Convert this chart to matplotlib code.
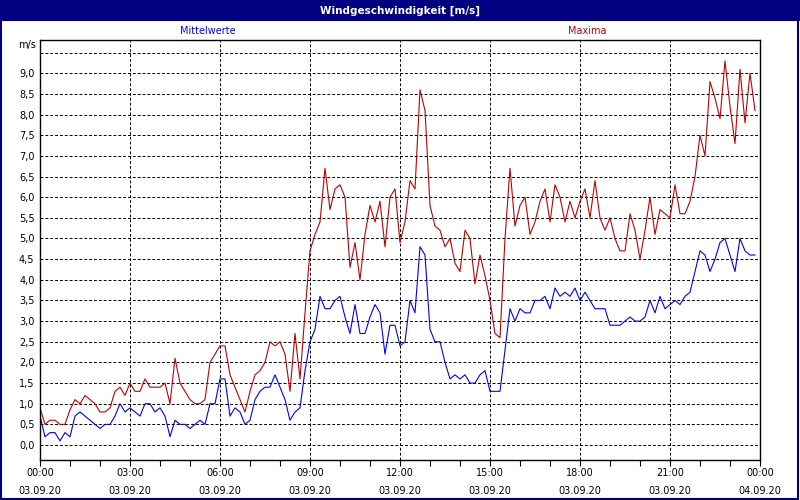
import numpy as np
import matplotlib
matplotlib.use('Agg')
import matplotlib.pyplot as plt
from matplotlib.patches import Rectangle

# 10-minute values, 03.09.20 00:00 .. 23:50
mittel = [0.7, 0.2, 0.3, 0.3, 0.1, 0.3, 0.2, 0.7, 0.8, 0.7, 0.6, 0.5,
          0.4, 0.5, 0.5, 0.7, 1.0, 0.8, 0.9, 0.8, 0.7, 1.0, 1.0, 0.8,
          0.9, 0.7, 0.2, 0.6, 0.5, 0.5, 0.4, 0.5, 0.6, 0.5, 1.0, 1.0,
          1.6, 1.6, 0.7, 0.9, 0.8, 0.5, 0.6, 1.1, 1.3, 1.4, 1.4, 1.7,
          1.4, 1.1, 0.6, 0.8, 0.9, 1.8, 2.5, 2.8, 3.6, 3.3, 3.3, 3.5,
          3.6, 3.1, 2.7, 3.4, 2.7, 2.7, 3.1, 3.4, 3.2, 2.2, 2.9, 2.9,
          2.4, 2.5, 3.5, 3.2, 4.8, 4.6, 2.8, 2.5, 2.5, 2.0, 1.6, 1.7,
          1.6, 1.7, 1.5, 1.5, 1.7, 1.8, 1.3, 1.3, 1.3, 2.3, 3.3, 3.0,
          3.3, 3.2, 3.2, 3.5, 3.5, 3.6, 3.3, 3.8, 3.6, 3.7, 3.6, 3.8,
          3.5, 3.7, 3.5, 3.3, 3.3, 3.3, 2.9, 2.9, 2.9, 3.0, 3.1, 3.0,
          3.0, 3.1, 3.5, 3.2, 3.6, 3.3, 3.4, 3.5, 3.4, 3.6, 3.7, 4.2,
          4.7, 4.6, 4.2, 4.5, 4.9, 5.0, 4.6, 4.2, 5.0, 4.7, 4.6, 4.6]

maxima = [0.9, 0.5, 0.6, 0.6, 0.5, 0.5, 0.85, 1.1, 1.0, 1.2, 1.1, 1.0,
          0.8, 0.8, 0.9, 1.3, 1.4, 1.2, 1.5, 1.3, 1.3, 1.6, 1.4, 1.4,
          1.4, 1.5, 1.0, 2.1, 1.5, 1.3, 1.1, 1.0, 1.0, 1.1, 2.0, 2.2,
          2.4, 2.4, 1.7, 1.4, 1.1, 0.8, 1.3, 1.7, 1.8, 2.0, 2.5, 2.4,
          2.5, 2.2, 1.3, 2.7, 1.6, 3.2, 4.7, 5.1, 5.4, 6.7, 5.7, 6.2,
          6.3, 6.0, 4.3, 4.9, 4.0, 5.1, 5.8, 5.4, 5.9, 4.8, 6.0, 6.2,
          4.9, 5.4, 6.4, 6.2, 8.6, 8.1, 5.8, 5.3, 5.2, 4.8, 5.0, 4.4,
          4.2, 5.2, 5.0, 3.9, 4.6, 4.1, 3.5, 2.7, 2.6, 5.0, 6.7, 5.3,
          5.8, 6.0, 5.1, 5.4, 5.9, 6.2, 5.4, 6.3, 6.0, 5.4, 5.9, 5.5,
          5.9, 6.2, 5.5, 6.4, 5.5, 5.2, 5.5, 5.0, 4.7, 4.7, 5.6, 5.2,
          4.5, 5.2, 6.0, 5.1, 5.7, 5.6, 5.5, 6.3, 5.6, 5.6, 5.9, 6.5,
          7.5, 7.0, 8.8, 8.4, 7.9, 9.3, 8.2, 7.3, 9.1, 7.8, 9.0, 8.1]

stunden = np.arange(len(mittel)) / 6.0
x_ticks = [0, 3, 6, 9, 12, 15, 18, 21, 24]
x_labels = ['00:00\n03.09.20', '03:00\n03.09.20', '06:00\n03.09.20',
            '09:00\n03.09.20', '12:00\n03.09.20', '15:00\n03.09.20',
            '18:00\n03.09.20', '21:00\n03.09.20', '00:00\n04.09.20']
y_ticks = np.arange(0, 9.01, 0.5)

navy = '#000080'
rot = '#c00000'
blau = '#0000ff'

fig = plt.figure(figsize=(8, 5), dpi=100)
fig.patch.set_facecolor('white')

# title bar and frame
fig.patches.append(Rectangle((0, 1 - 21 / 500), 1, 21 / 500, transform=fig.transFigure,
                             facecolor=navy, edgecolor='none', zorder=0))
fig.patches.append(Rectangle((0.001, 0.002), 0.997, 0.996, transform=fig.transFigure,
                             facecolor='none', edgecolor=navy, linewidth=1.5, zorder=5))
fig.text(0.5, 1 - 10.5 / 500, 'Windgeschwindigkeit [m/s]', color='white', fontsize=7.5,
         fontweight='bold', ha='center', va='center')
fig.text(208 / 800, 1 - 31 / 500, 'Mittelwerte', color=blau, fontsize=7, ha='center', va='center')
fig.text(587 / 800, 1 - 31 / 500, 'Maxima', color=rot, fontsize=7, ha='center', va='center')
fig.text(36 / 800, 1 - 45 / 500, 'm/s', color='black', fontsize=7, ha='right', va='center')

ax = fig.add_axes([40 / 800, 40 / 500, 720 / 800, 420 / 500])
ax.plot(stunden, maxima, color=rot, linewidth=0.8)
ax.plot(stunden, mittel, color=blau, linewidth=0.8)

ax.set_xlim(0, 24)
ax.set_ylim(-0.363, 9.806)

# dashed grid
for v in np.arange(0, 9.51, 0.5):
    ax.axhline(v, color='black', linewidth=0.7, linestyle=(0, (3, 2)), zorder=0)
for h in x_ticks[1:-1]:
    ax.axvline(h, color='black', linewidth=0.7, linestyle=(0, (3, 2)), zorder=0)

ax.set_yticks(y_ticks)
ax.set_yticklabels([('%.1f' % v).replace('.', ',') for v in y_ticks], fontsize=7)
ax.tick_params(axis='y', length=0, pad=4)
ax.set_xticks(x_ticks)
ax.set_xticklabels(x_labels, fontsize=7, linespacing=2.0)
ax.set_xticks(np.arange(0, 25, 1), minor=True)
ax.tick_params(axis='x', which='both', direction='out', length=4, width=0.8, pad=1.5)
for s in ax.spines.values():
    s.set_linewidth(1.0)
    s.set_color('black')

fig.savefig('out.png', dpi=100)
